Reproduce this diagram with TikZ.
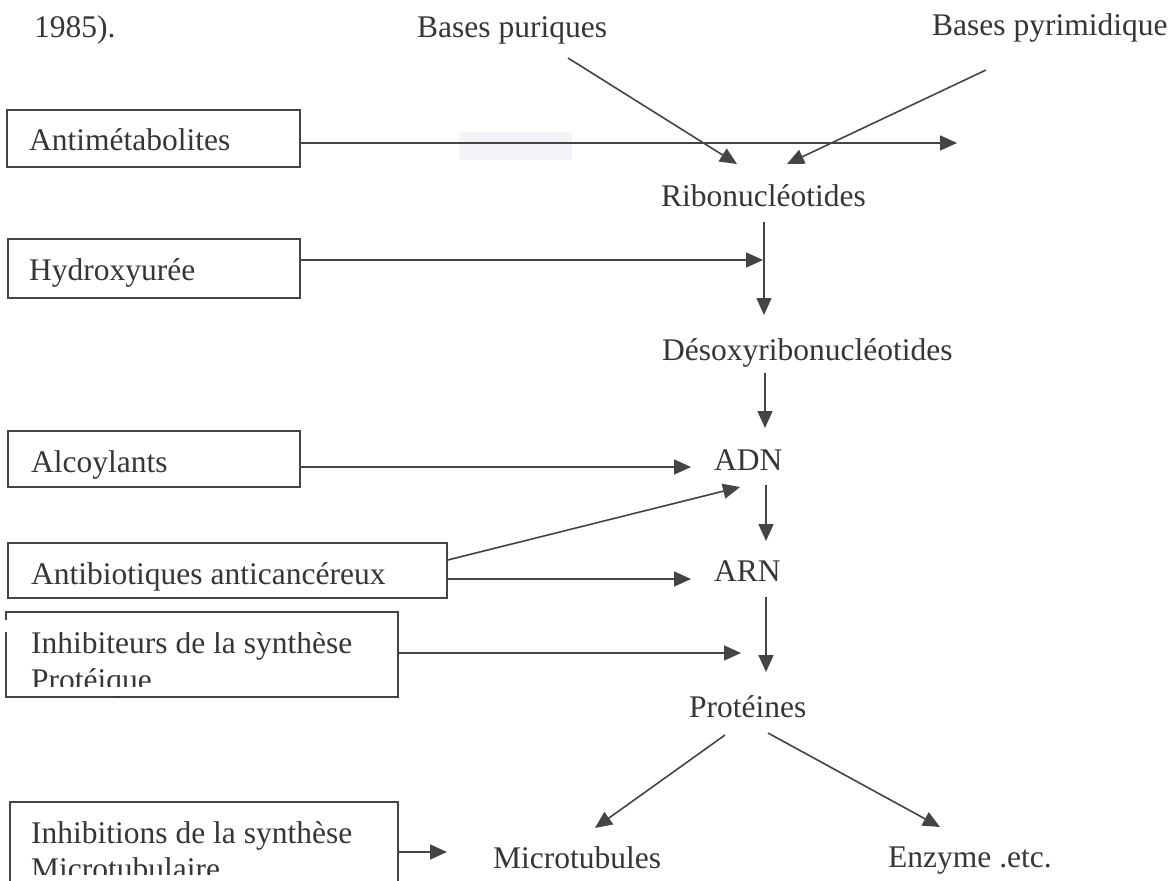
\documentclass[tikz,border=0pt]{standalone}
\usepackage{fontspec}
\setmainfont{Liberation Serif}
\usetikzlibrary{arrows.meta}
\definecolor{ink}{HTML}{363636}
\definecolor{lin}{HTML}{444444}
\definecolor{haze}{HTML}{F2F4F7}
\begin{document}
\begin{tikzpicture}[x=1pt,y=-1pt,
  lbl/.style={font=\fontsize{31.5}{37}\selectfont, text=ink, inner sep=0pt, anchor=base west},
  box/.style={draw=lin, line width=1.4pt, inner sep=0pt, rectangle},
  arr/.style={draw=lin, line width=1.6pt, -{Triangle[length=17pt,width=15pt]}},
  ln/.style={draw=lin, line width=1.6pt}]
\useasboundingbox (0,0) rectangle (1173,881);
\fill[white] (0,0) rectangle (1173,881);
% faint scan haze
\fill[haze] (459,132) rectangle (572,160);

% top labels
\node[lbl] (ref) at (34,37) {1985).};
\node[lbl] (pur) at (417,37) {Bases puriques};
\node[lbl] (pyr) at (932,35) {Bases pyrimidique};

% boxes
\node[box, minimum width=293pt, minimum height=57pt] (anti) at (153.5,138.5) {};
\node[box, minimum width=292pt, minimum height=59pt] (hydro) at (154,268.5) {};
\node[box, minimum width=292pt, minimum height=56pt] (alco) at (154,459) {};
\node[box, minimum width=439pt, minimum height=55pt] (antib) at (227.5,570.5) {};
\node[box, minimum width=392pt, minimum height=85pt] (inhp) at (202,654.5) {};
\node[box, minimum width=388pt, minimum height=98pt] (inhm) at (204,851) {};

% box labels
\node[lbl] (tanti) at (29,150) {Antimétabolites};
\node[lbl] (thydro) at (29,280) {Hydroxyurée};
\node[lbl] (talco) at (31,472) {Alcoylants};
\node[lbl] (tantib) at (31,584) {Antibiotiques anticancéreux};
\node[lbl] (tinhp1) at (31,653) {Inhibiteurs de la synthèse};
\node[lbl] (tinhp2) at (31,690) {Protéique};
\node[lbl] (tinhm1) at (31,843) {Inhibitions de la synthèse};
\node[lbl] (tinhm2) at (31,879) {Microtubulaire};
% scan cut-offs of the lower text lines
\fill[white] (9,687) rectangle (395,695.5);
\fill[white] (12,875) rectangle (396,881);
% scan patch over the top of the Inhibiteurs box
\fill[white] (0,620) rectangle (396,632);

% pathway labels
\node[lbl] (ribo) at (661,206) {Ribonucléotides};
\node[lbl] (deso) at (662,360) {Désoxyribonucléotides};
\node[lbl] (adn) at (714,470) {ADN};
\node[lbl] (arn) at (714,581) {ARN};
\node[lbl] (prot) at (689,717) {Protéines};
\node[lbl] (micro) at (493,868) {Microtubules};
\node[lbl] (enz) at (888,867) {Enzyme .etc.};

% coordinates for connector ends
\coordinate (antiEnd) at (957,143);
\coordinate (purA) at (568,58);
\coordinate (purB) at (737,164);
\coordinate (pyrA) at (986,70);
\coordinate (pyrB) at (787,164);
\coordinate (riboA) at (764,222);
\coordinate (riboB) at (764,315);
\coordinate (hydroEnd) at (763,260);
\coordinate (desoA) at (765,373);
\coordinate (desoB) at (765,428);
\coordinate (alcoEnd) at (691,467);
\coordinate (antibUp) at (740,487);
\coordinate (antibEnd) at (691,579);
\coordinate (adnA) at (766,485);
\coordinate (adnB) at (766,541);
\coordinate (arnA) at (766,597);
\coordinate (arnB) at (766,672);
\coordinate (inhpEnd) at (741,653);
\coordinate (protL) at (725,735);
\coordinate (microEnd) at (595,828);
\coordinate (protR) at (768,733);
\coordinate (enzEnd) at (940,827);
\coordinate (inhmEnd) at (447,852);

% connectors
\draw[arr] ([yshift=-4.5pt]anti.east) -- (antiEnd);
\draw[arr] (purA) -- (purB);
\draw[arr] (pyrA) -- (pyrB);
\draw[arr] (riboA) -- (riboB);
\draw[arr] ([yshift=8.5pt]hydro.east) -- (hydroEnd);
\draw[arr] (desoA) -- (desoB);
\draw[arr] ([yshift=-8pt]alco.east) -- (alcoEnd);
\draw[arr] ([yshift=10.5pt]antib.east) -- (antibUp);
\draw[arr] ([yshift=-8.5pt]antib.east) -- (antibEnd);
\draw[arr] (adnA) -- (adnB);
\draw[arr] (arnA) -- (arnB);
\draw[arr] ([yshift=1.5pt]inhp.east) -- (inhpEnd);
\draw[arr] (protL) -- (microEnd);
\draw[arr] (protR) -- (enzEnd);
\draw[arr] ([yshift=-1pt]inhm.east) -- (inhmEnd);
\end{tikzpicture}
\end{document}
